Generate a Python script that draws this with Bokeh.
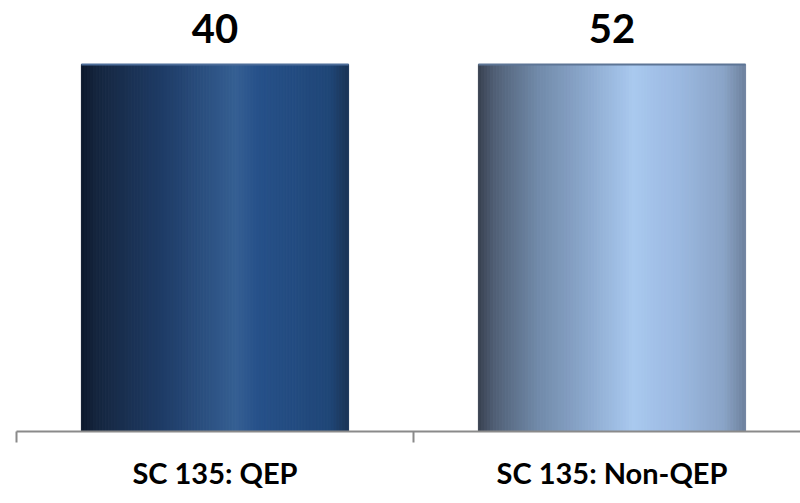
import numpy as np
from bokeh.plotting import figure
from bokeh.models import Range1d, FixedTicker, ColumnDataSource
from bokeh.core.properties import value
from bokeh.embed import file_html
from bokeh.resources import INLINE

# ---- data ----
categories = ["SC 135: QEP", "SC 135: Non-QEP"]
counts = [40, 52]                 # labels shown above the bars
bar_heights = [100, 100]          # both bars drawn full height (share of group, %)

# ---- style ----
BAR_W = 0.673
gradients = [
    [(0.0, "#0c182b"), (0.06, "#15263f"), (0.3, "#1e3b66"), (0.58, "#355f93"),
     (0.66, "#27518a"), (0.93, "#1f4677"), (1.0, "#1a3456")],
    [(0.0, "#39414f"), (0.06, "#505f75"), (0.22, "#7089a8"), (0.42, "#8eabd0"),
     (0.58, "#a9c9ef"), (0.75, "#9bb9e1"), (0.92, "#8aa4c7"), (1.0, "#6e829e")],
]
rim_colors = ["#4d6d99", "#5d7595"]


def hex2rgb(h):
    return np.array([int(h[i:i + 2], 16) for i in (1, 3, 5)], dtype=float)


def grad_color(stops, t):
    for (t0, c0), (t1, c1) in zip(stops[:-1], stops[1:]):
        if t0 <= t <= t1:
            f = 0 if t1 == t0 else (t - t0) / (t1 - t0)
            c = hex2rgb(c0) * (1 - f) + hex2rgb(c1) * f
            return "#%02x%02x%02x" % tuple(int(round(v)) for v in c)
    return stops[-1][1]


xs = [i + 0.5 for i in range(len(categories))]

N = 90
left, right, top, bottom, colors = [], [], [], [], []
for i, (x, h) in enumerate(zip(xs, bar_heights)):
    x0 = x - BAR_W / 2
    for k in range(N):
        left.append(x0 + k * BAR_W / N)
        right.append(x0 + (k + 1) * BAR_W / N)
        top.append(h)
        bottom.append(0)
        colors.append(grad_color(gradients[i], (k + 0.5) / N))

W, H = 800, 503
p = figure(width=W, height=H, output_backend="svg", toolbar_location=None,
           x_range=Range1d(0, 784 / 397), y_range=Range1d(0, 100 * 423 / 367),
           min_border_left=16, min_border_right=0, min_border_top=8,
           min_border_bottom=72)
p.outline_line_color = None
p.xgrid.visible = False
p.ygrid.visible = False
p.yaxis.visible = False
p.background_fill_color = "white"
p.border_fill_color = "white"

src = ColumnDataSource(dict(left=left, right=right, top=top, bottom=bottom, color=colors))
p.quad(left="left", right="right", top="top", bottom="bottom", source=src,
       fill_color="color", line_color="color", line_width=1)

# top rim
rim = ColumnDataSource(dict(x0=[x - BAR_W / 2 for x in xs], x1=[x + BAR_W / 2 for x in xs],
                            y=bar_heights, c=rim_colors))
p.segment(x0="x0", x1="x1", y0="y", y1="y", source=rim, line_color="c", line_width=2)

# value labels
lab = ColumnDataSource(dict(x=xs, y=bar_heights, t=[str(c) for c in counts]))
p.text(x="x", y="y", text="t", source=lab, text_align="center",
       text_baseline="middle", y_offset=-36, text_font=value("Lato"),
       text_font_style="bold", text_font_size="40px", text_color="black")

ax = p.xaxis[0]
ax.ticker = FixedTicker(ticks=xs, minor_ticks=list(range(len(categories) + 1)))
ax.major_label_overrides = {x: c for x, c in zip(xs, categories)}
ax.major_tick_line_color = None
ax.minor_tick_in = 0
ax.minor_tick_out = 11
ax.minor_tick_line_color = "#8a8a8a"
ax.minor_tick_line_width = 2
ax.axis_line_color = "#8a8a8a"
ax.axis_line_width = 2
ax.major_label_text_font = "Lato"
ax.major_label_text_font_style = "bold"
ax.major_label_text_font_size = "29px"
ax.major_label_text_color = "black"
ax.major_label_standoff = 12

open("out.html", "w").write(file_html(p, INLINE))
